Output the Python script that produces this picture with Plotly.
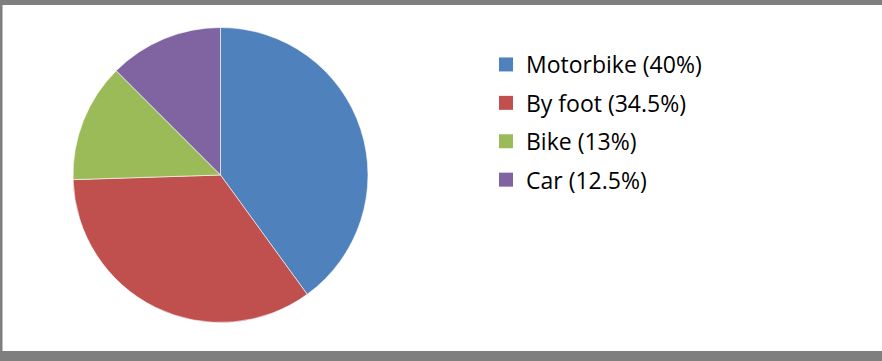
import plotly.graph_objects as go

# Share of trips by mode of transport
modes = ["Motorbike", "By foot", "Bike", "Car"]
shares = [40, 34.5, 13, 12.5]
colors = ["#4F81BD", "#C0504D", "#9BBB59", "#8064A2"]

W, H = 882, 361
FONT = "'Open Sans', Lato, sans-serif"

fig = go.Figure()

fig.add_trace(go.Pie(
    labels=modes,
    values=shares,
    sort=False,
    direction="clockwise",
    rotation=0,
    marker=dict(colors=colors, line=dict(color="white", width=0.6)),
    textinfo="none",
    hoverinfo="label+percent",
    showlegend=False,
    domain=dict(x=[73 / W, 368 / W], y=[1 - 322.5 / H, 1 - 27.5 / H]),
))

# Legend entries, one group per mode so the rows can be spaced apart
for i, (m, s, c) in enumerate(zip(modes, shares, colors)):
    fig.add_trace(go.Scatter(
        x=[None], y=[None], mode="markers",
        marker=dict(symbol="square", size=14, color=c),
        name=f"{m} ({s:g}%)",
        legendgroup=f"g{i}",
        showlegend=True,
    ))

fig.update_layout(
    width=W, height=H,
    margin=dict(l=0, r=0, t=0, b=0),
    paper_bgcolor="white",
    plot_bgcolor="white",
    xaxis=dict(visible=False),
    yaxis=dict(visible=False),
    font=dict(family=FONT, color="#000000"),
    legend=dict(
        x=486 / W, xanchor="left",
        y=1 - 43 / H, yanchor="top",
        font=dict(size=23, family=FONT, color="#000000"),
        tracegroupgap=5.5,
        itemclick=False,
        bgcolor="rgba(0,0,0,0)",
    ),
    shapes=[
        dict(type="rect", xref="paper", yref="paper", x0=0, x1=1,
             y0=1 - 5 / H, y1=1, fillcolor="#7f7f7f", line_width=0, layer="above"),
        dict(type="rect", xref="paper", yref="paper", x0=0, x1=1,
             y0=0, y1=10 / H, fillcolor="#7f7f7f", line_width=0, layer="above"),
        dict(type="rect", xref="paper", yref="paper", x0=0, x1=2.5 / W,
             y0=0, y1=1, fillcolor="#7f7f7f", line_width=0, layer="above"),
    ],
)

fig.write_html("out.html")
